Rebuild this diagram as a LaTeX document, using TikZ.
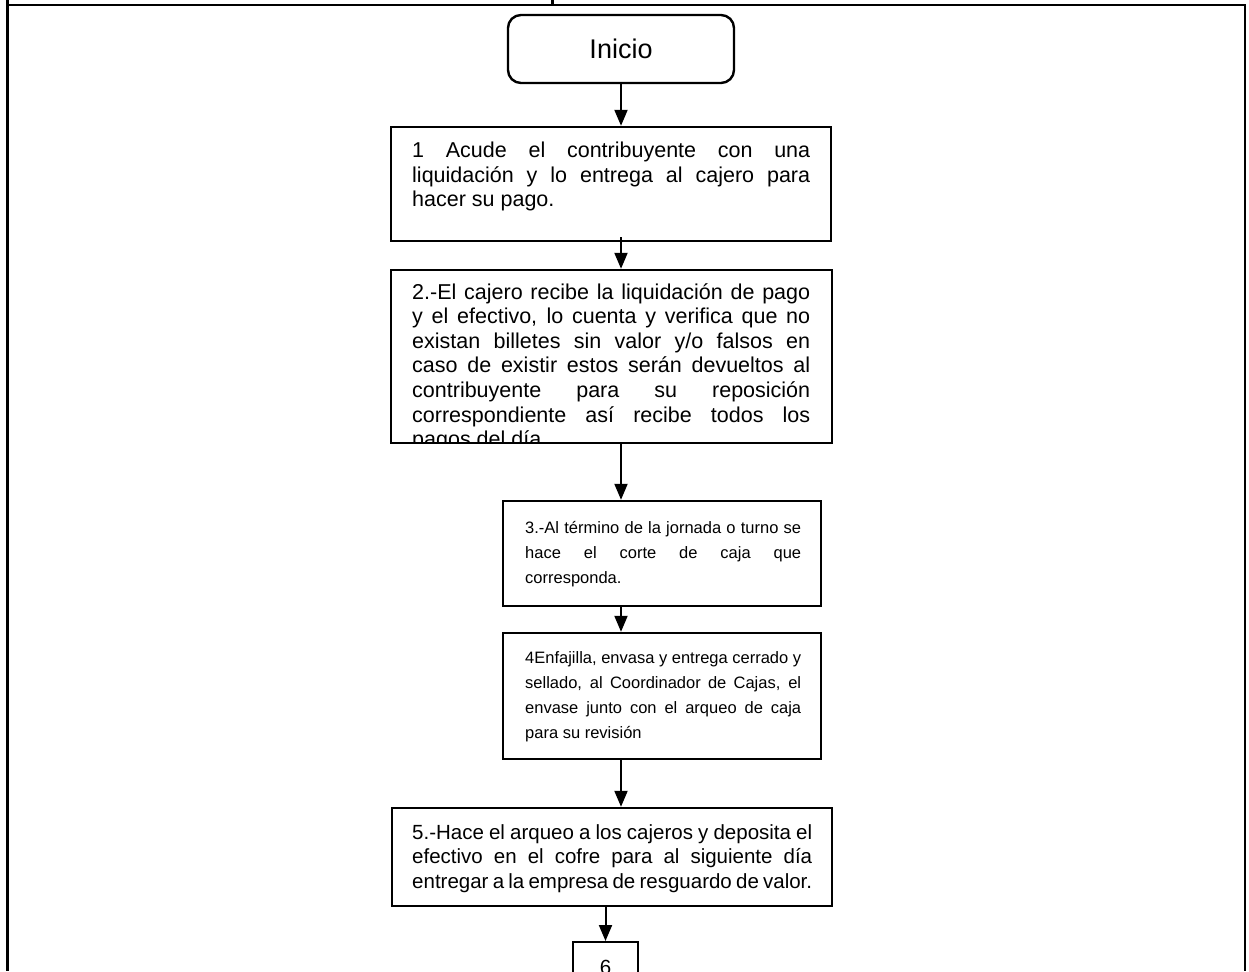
\documentclass[tikz,border=0pt]{standalone}
\usepackage{fontspec}
\setmainfont{Liberation Sans}
\usepackage{tikz}
\usetikzlibrary{arrows.meta}

\begin{document}
\begin{tikzpicture}[x=1pt, y=-1pt, >={Triangle[width=13pt,length=16pt]},
    marco/.style={line width=2.8pt},
    caja/.style={draw, line width=2.4pt, inner sep=0pt},
    texto/.style={font=\fontsize{21.5}{24.6}\selectfont, align=justify, inner sep=0pt, anchor=north west},
    chico/.style={font=\fontsize{16.5}{25}\selectfont},
    flecha/.style={->, line width=2pt}]
    \clip (0,0) rectangle (1249,971);
    \draw[marco] (7.7,0) -- (7.7,971);
    \draw[marco] (6.3,5) -- (1245,5) -- (1245,971);
    \draw[marco] (552.7,0) -- (552.7,5);
    \coordinate (eje) at (621,0);
    \node[caja, rounded corners=13pt, minimum width=226pt, minimum height=68pt,
        font=\fontsize{27}{30}\selectfont] (inicio) at (621,49) {Inicio};
    \node[caja, minimum width=440pt, minimum height=114pt] (b1) at (611,184) {};
    \node[texto, text width=398pt] at (412,142) {1 Acude el contribuyente con una\linebreak
        liquidación y  lo entrega al cajero para\linebreak hacer su pago.};
    \begin{scope}
        \clip (391,270) rectangle (832,443);
        \node[texto, text width=398pt] at (412,283) {2.-El cajero recibe la liquidación de pago\linebreak
            y el efectivo, lo cuenta y verifica que no\linebreak
            existan  billetes sin valor  y/o falsos en\linebreak
            caso de existir estos serán devueltos al\linebreak
            contribuyente para su reposición\linebreak
            correspondiente así recibe todos los\linebreak
            pagos del día};
    \end{scope}
    \node[caja, minimum width=441pt, minimum height=173pt] (b2) at (611.5,356.5) {};
    \node[caja, minimum width=318pt, minimum height=105pt] (b3) at (662,553.5) {};
    \node[texto, chico, text width=276pt] at (525,521)
        {3.-Al término de la jornada o turno se\linebreak hace el corte de caja que\linebreak corresponda.};
    \node[caja, minimum width=318pt, minimum height=126pt] (b4) at (662,696) {};
    \node[texto, chico, text width=276pt] at (525,651)
        {4Enfajilla, envasa y entrega cerrado y\linebreak sellado, al Coordinador de Cajas, el\linebreak
        envase junto con el arqueo de caja\linebreak para su revisión};
    \node[caja, minimum width=440pt, minimum height=98pt] (b5) at (612,857) {};
    \node[texto, text width=400pt, font=\fontsize{20.5}{24.8}\selectfont] at (412,824)
        {5.-Hace el arqueo a los cajeros y deposita el\linebreak
        efectivo en el cofre para al siguiente día\linebreak entregar a la empresa de resguardo de valor.};
    \node[caja, minimum width=65pt, minimum height=50pt, anchor=north,
        font=\fontsize{20.5}{24.6}\selectfont] (b6) at (605.5,941) {6};
    \draw[flecha] (inicio.south) -- (inicio.south |- b1.north);
    \draw[flecha, shorten <=-5pt] (b1.south -| eje) -- (b2.north -| eje);
    \draw[flecha] (b2.south -| eje) -- (b3.north -| eje);
    \draw[flecha] (b3.south -| eje) -- (b4.north -| eje);
    \draw[flecha] (b4.south -| eje) -- (b5.north -| eje);
    \draw[flecha] (b5.south -| b6) -- (b6.north);
\end{tikzpicture}
\end{document}
